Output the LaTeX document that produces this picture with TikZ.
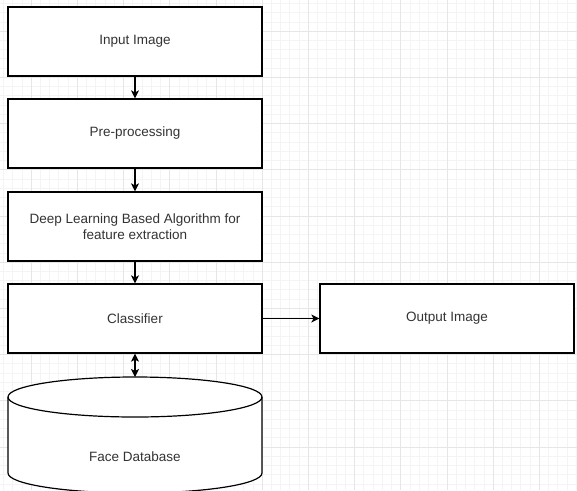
\documentclass[tikz,border=0pt]{standalone}
\usepackage{fontspec}
\setmainfont{Liberation Sans}
\usetikzlibrary{arrows.meta}
\definecolor{gridmajor}{HTML}{E6E6E6}
\definecolor{gridminor}{HTML}{F4F4F4}
\definecolor{textgrey}{HTML}{333333}

\begin{document}
\begin{tikzpicture}[x=1pt, y=-1pt, >={Stealth[length=8pt,width=8pt,inset=2pt]},
  every node/.style={font=\fontsize{13.5}{15.5}\selectfont, text=textgrey},
  stage/.style={draw, line width=1.2pt, fill=white, minimum width=254pt, minimum height=69pt, inner sep=0pt, align=center},
  flow/.style={->, line width=1.2pt}]
\useasboundingbox (0,0) rectangle (577,490);
\clip (0,0) rectangle (577,490);
\fill[white] (0,0) rectangle (577,490);
% background grid
\foreach \k in {0,...,62} {
  \draw[gridminor, line width=0.5pt] (3.28+9.24*\k,0) -- (3.28+9.24*\k,490);
  \draw[gridminor, line width=0.5pt] (0,3.28+9.24*\k) -- (577,3.28+9.24*\k);
}
\foreach \k in {0,...,13} {
  \draw[gridmajor, line width=0.6pt] (-15.2+46.2*\k,0) -- (-15.2+46.2*\k,490);
  \draw[gridmajor, line width=0.6pt] (0,-15.2+46.2*\k) -- (577,-15.2+46.2*\k);
}
% stages
\node[stage] (input) at (135,41.5) {Input Image};
\node[stage] (pre) at (135,133.5) {Pre-processing};
\node[stage] (deep) at (135,226.5) {Deep Learning Based Algorithm for\\feature extraction};
\node[stage] (cls) at (135,318.5) {Classifier};
\node[stage] (out) at (447,318.5) {Output Image};
% database cylinder
\draw[line width=1.2pt, fill=white] (8,397) -- (8,473)
  arc[start angle=180, end angle=0, x radius=127, y radius=20] -- (262,397)
  arc[start angle=0, end angle=-180, x radius=127, y radius=20] -- cycle;
\draw[line width=1.2pt] (8,397) arc[start angle=180, end angle=0, x radius=127, y radius=20];
\coordinate (dbtop) at (135,377);
\node (db) at (135,457) {Face Database};
% connectors
\draw[flow] (input) -- (pre);
\draw[flow] (pre) -- (deep);
\draw[flow] (deep) -- (cls);
\draw[flow] (cls) -- (out);
\draw[<->, line width=1.2pt] (cls) -- (dbtop);
\end{tikzpicture}
\end{document}
